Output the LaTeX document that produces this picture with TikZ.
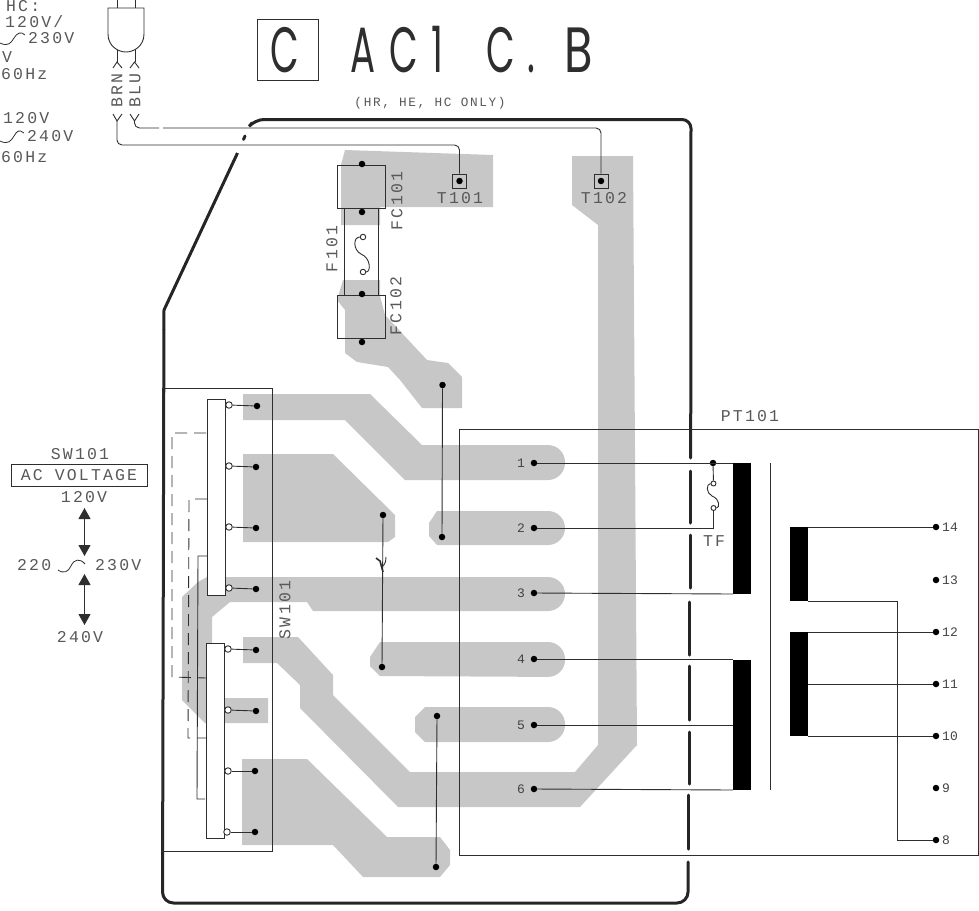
\documentclass[tikz,border=0pt]{standalone}
\usepackage{fontspec}
\setmainfont{Liberation Sans}
\newfontfamily\labfont[LetterSpace=13]{Liberation Mono}
\newfontfamily\numfont{Liberation Mono}
\newfontfamily\bigfont[LetterSpace=36]{Poppins}
\definecolor{trace}{gray}{0.78}
\definecolor{ink}{gray}{0.18}
\usetikzlibrary{arrows.meta}
\tikzset{
  lab/.style={font=\labfont\fontsize{16.5}{16.5}\selectfont,text=ink!80,inner sep=0pt,anchor=center},
  smalllab/.style={font=\labfont\fontsize{12.7}{12.7}\selectfont,text=ink!80,inner sep=0pt,anchor=center},
  numlab/.style={font=\numfont\fontsize{13}{13}\selectfont,text=ink!90,inner sep=0pt,anchor=center},
  titlelab/.style={font=\bigfont\fontsize{64}{64}\selectfont,text=ink,inner sep=0pt,anchor=center,xscale=0.58,transform shape},
  wire/.style={draw=ink,line width=0.9pt},
  dashwire/.style={draw=ink,line width=0.9pt,dash pattern=on 12pt off 7pt},
  board/.style={draw=ink!80!black,line width=3pt},
  pad/.style={fill=trace,draw=none},
  dot/.style={circle,fill=black,draw=none,minimum size=6.5pt,inner sep=0pt},
  hole/.style={circle,fill=white,draw=ink,line width=0.9pt,minimum size=6.5pt,inner sep=0pt},
  core/.style={fill=black,draw=none},
  dbl/.style={draw=ink,line width=1pt,{Triangle[length=11pt,width=12pt]}-{Triangle[length=11pt,width=12pt]}}
}
\begin{document}
\begin{tikzpicture}[x=1pt,y=-1pt]
\useasboundingbox (0,0) rectangle (979,910);
% traces
\path[pad] (345,150)--(493,155)--(493,207)--(380,207)--(380,225)--(341,225)--(341,165)--cycle;
\path[pad] (343,280)--(380,280)--(380,296)--(385,315)--(427,360)--(448,363)--(462,377)--(462,408)--(422,408)--(400,380)--(388,367)--(357,362)--(345,353)--(345,310)--(337,300)--cycle;
\path[pad] (572,156)--(633,156)--(637,745)--(580,807)--(398,807)--(300,708)--(300,685)--(277,663)--(243,663)--(243,637)--(298,637)--(333,675)--(333,695)--(410,772)--(575,772)--(598,745)--(598,225)--(572,205)--cycle;
\path[pad] (242,759)--(307,759)--(387,837)--(440,837)--(450,850)--(450,865)--(440,877)--(363,877)--(333,845)--(242,845)--cycle;
\path[pad] (243,394)--(370,394)--(422,445)--(548,445) [rounded corners=17pt]--(565,445)--(565,480) [sharp corners]--(405,480)--(345,420)--(243,420)--cycle;
\path[pad] (243,454)--(333,454)--(395,515)--(395,537)--(388,542)--(243,542)--cycle;
\path[pad] (429,523)--(437,511)--(548,511) [rounded corners=17pt]--(565,511)--(565,545) [sharp corners]--(437,545)--(429,536)--cycle;
\path[pad] (198,582)--(207,577)--(548,577) [rounded corners=17pt]--(565,577)--(565,611) [sharp corners]--(313,611)--(307,602)--(230,602)--(212,617)--(212,685)--(225,698)--(268,698)--(268,723)--(205,723)--(182,700)--(182,597)--cycle;
\path[pad] (370,657)--(380,642)--(548,642) [rounded corners=17pt]--(565,642)--(565,677) [sharp corners]--(380,676)--(370,666)--cycle;
\path[pad] (415,717)--(425,707)--(548,707) [rounded corners=17pt]--(565,707)--(565,742) [sharp corners]--(425,742)--(415,732)--cycle;
% title
\node[draw=ink,line width=0.8pt,minimum width=61pt,minimum height=61pt,inner sep=0pt] (cbox) at (287.5,49.5) {};
\node[titlelab] (t1) at (285,50) {C};
\node[titlelab] (t2) at (397,50) {AC1};
\node[titlelab] (t3) at (511,50) {C\kern22pt.};
\node[titlelab,xscale=1.25] (t4) at (579,50) {B};
\node[smalllab] (only) at (430,103) {(HR, HE, HC ONLY)};
% left labels
\node[lab,anchor=west] (l1) at (6,6) {HC:};
\node[lab,anchor=west] (l2) at (5,21.5) {120V/};
\node[lab,anchor=west] (l3) at (28,38) {230V};
\node[lab,anchor=west] (l4) at (2,57) {V};
\node[lab,anchor=west] (l5) at (1,74) {60Hz};
\node[lab,anchor=west] (l6) at (3,118) {120V};
\node[lab,anchor=west] (l7) at (27,136) {240V};
\node[lab,anchor=west] (l8) at (1,157) {60Hz};
\draw[wire,line width=0.8pt] (0,43) .. controls (8,47) and (11,43) .. (14,38) .. controls (17,33) and (21,31) .. (25,35);
\draw[wire,line width=0.8pt] (0,141) .. controls (8,145) and (11,141) .. (14,136) .. controls (17,131) and (19,129) .. (24,133);
% plug
\draw[wire] (108,8)--(144,8)--(144,34) .. controls (144,46) and (134,52) .. (126,52) .. controls (118,52) and (108,46) .. (108,34)--cycle;
\draw[wire] (117,0)--(117,8);
\draw[wire] (135,0)--(135,8);
\coordinate (brnA) at (117,50);
\coordinate (bluA) at (135,50);
\draw[wire] (brnA)--(117,62);
\draw[wire] (bluA)--(135,62);
\draw[wire] (113,68)--(117,62)--(122,68);
\draw[wire] (130,68)--(134.5,62)--(139,68);
\node[lab,rotate=90] (brn) at (117,91) {BRN};
\node[lab,rotate=90] (blu) at (135,91) {BLU};
\draw[wire] (113,114)--(117,121)--(122,114);
\draw[wire] (130,114)--(134.5,121)--(139,114);
% terminals
\node[dot] (t101) at (459.5,181) {};
\node[dot] (t102) at (601,181) {};
\node[draw=ink,line width=0.8pt,minimum size=14pt,inner sep=0pt] (t101b) at (459.5,181) {};
\node[draw=ink,line width=0.8pt,minimum size=14pt,inner sep=0pt] (t102b) at (601,181) {};
\node[lab] (t101t) at (460,198) {T101};
\node[lab] (t102t) at (604,198) {T102};
\draw[wire,rounded corners=5pt] (117,121)--(117,145)--(459.5,145)--(t101b.north);
\draw[wire,rounded corners=5pt] (134.5,121)--(134.5,128)--(159,128);
\draw[wire,rounded corners=5pt] (163,128)--(601,128)--(t102b.north);
% board outline
\draw[board,line cap=round,rounded corners=9pt] (252,123)--(255,119.5)--(691,119.5)--(690.7,458);
\draw[board,line cap=round] (245,136)--(243.5,139.5);
\draw[board] (237.5,153)--(164,310)--(163.9,330);
\draw[board,rounded corners=11pt,line cap=round] (163.9,330)--(162.5,903)--(688,903)--(688.2,862);
% fuse block
\draw[wire] (344,208)--(344,295);
\draw[wire] (378,208)--(378,295);
\node[draw=ink,line width=0.9pt,minimum width=48pt,minimum height=43pt,inner sep=0pt] (fc101) at (361,186.5) {};
\node[draw=ink,line width=0.9pt,minimum width=48pt,minimum height=43pt,inner sep=0pt] (fc102) at (361,316.5) {};
\node[dot] (f1) at (362,164) {};
\node[dot] (f2) at (362,212) {};
\node[dot] (f3) at (362,294) {};
\node[dot] (f4) at (362,342) {};
\node[hole,minimum size=5.5pt] (fa) at (363,237) {};
\node[hole,minimum size=5.5pt] (fb) at (363,272) {};
\draw[wire] (fa.west) .. controls (353,237) and (353,250) .. (361,254) .. controls (371,258) and (371,272) .. (fb.east);
\node[lab,rotate=90] (fc101t) at (397,201) {FC101};
\node[lab,rotate=90] (f101t) at (332,249) {F101};
\node[lab,rotate=90] (fc102t) at (396,306) {FC102};
% SW block
\node[draw=ink,line width=0.8pt,minimum width=110pt,minimum height=463pt,inner sep=0pt] (swrect) at (217,619.5) {};
\node[lab,rotate=90] (swt) at (285,610) {SW101};
\draw[dashwire] (206,433)--(172,433)--(172,677)--(206,678);
\draw[dashwire] (207,499)--(189,499)--(188,738)--(206,738);
\draw[wire] (207,556)--(198,556)--(197,799)--(205,799);
\node[draw=ink,line width=0.9pt,fill=white,minimum width=18pt,minimum height=196pt,inner sep=0pt] (sw1) at (216,497) {};
\node[draw=ink,line width=0.9pt,fill=white,minimum width=18pt,minimum height=195pt,inner sep=0pt] (sw2) at (215,740.5) {};
\foreach \n/\hx/\hy/\dx/\dy in {a/229/405/257/406,b/229/466/256/467,c/229/527/256/528,d/229/588/256/589,e/228/649/256/650,f/228/710/256/711,g/228/771/255/771,h/227/832/255/832}{
  \node[hole] (h\n) at (\hx,\hy) {};
  \node[dot] (d\n) at (\dx,\dy) {};
  \draw[wire] (h\n)--(d\n);
}
% jumpers
\node[dot] (j1a) at (442.5,385) {};
\node[dot] (j1b) at (442,537) {};
\draw[wire] (j1a)--(j1b);
\node[dot] (j2a) at (383,515) {};
\node[dot] (j2b) at (382,667) {};
\draw[wire] (j2a)--(j2b);
\node[dot] (j3a) at (437,716) {};
\node[dot] (j3b) at (436,867) {};
\draw[wire] (j3a)--(j3b);
\draw[line width=1.6pt,draw=ink] (376,558)--(380,561)--(383,572);
\draw[wire] (386,557) .. controls (386,563) and (384,566) .. (381,567);
% PT101
\node[draw=ink,line width=0.8pt,minimum width=519pt,minimum height=426pt,inner sep=0pt] (ptrect) at (718.5,642) {};
\node[lab] (ptt) at (750,416) {PT101};
% board dashes
\foreach \x/\a/\b in {690.3/471/523,690/535/588,689.5/602/655,689.3/666/720,689/732/784,688.6/795/849}{
  \draw[board,line cap=round] (\x,\a)--(\x,\b);
}
% cores
\fill[core] (733,463) rectangle (751,594);
\fill[core] (733,660) rectangle (751,790);
\fill[core] (790,527) rectangle (808,601);
\fill[core] (790,632) rectangle (808,736);
\draw[wire] (770.5,463)--(770.5,790);
% pads 1-6
\foreach \n/\y in {1/463,2/528,3/593,4/659,5/725,6/789}{
  \node[dot] (p\n) at (534,\y) {};
  \node[numlab] (pl\n) at (521,\y) {\n};
}
\node[dot] (tfj) at (713,463) {};
\coordinate (c1t) at (733,463);
\coordinate (c1b) at (733,594);
\coordinate (c4) at (733,659);
\coordinate (c5) at (733,725);
\coordinate (c6) at (733,790);
\draw[wire] (p1)--(c1t);
\draw[wire] (p3)--(c1b);
\draw[wire] (p4)--(c4);
\draw[wire] (p5)--(c5);
\draw[wire] (p6)--(c6);
\node[hole,minimum size=5pt] (tfa) at (713.5,483.5) {};
\node[hole,minimum size=5pt] (tfb) at (713.5,508) {};
\draw[wire] (tfj)--(tfa);
\draw[wire] (tfa.west) .. controls (706,484) and (706,493) .. (712,496) .. controls (720,499) and (720,508) .. (tfb.east);
\draw[wire] (p2)--(713.5,528)--(tfb);
\node[lab] (tft) at (714,541) {TF};
% secondary
\foreach \n/\y in {14/527,13/580,12/632,11/684,10/736,9/788,8/840}{
  \node[dot] (s\n) at (936,\y) {};
  \node[numlab,anchor=west] (sl\n) at (942,\y) {\n};
}
\coordinate (c14) at (808,527);
\coordinate (c8) at (808,601);
\coordinate (c12) at (808,632);
\coordinate (c11) at (808,684);
\coordinate (c10) at (808,736);
\draw[wire] (c14)--(s14);
\draw[wire] (c12)--(s12);
\draw[wire] (c11)--(s11);
\draw[wire] (c10)--(s10);
\draw[wire] (c8)--(897,601)--(897,840)--(s8);
% SW101 legend
\node[lab] (swl) at (80,454) {SW101};
\node[draw=ink,line width=0.8pt,minimum width=136pt,minimum height=22pt,inner sep=0pt,lab] (acv) at (79,475) {AC VOLTAGE};
\node[lab] (v120) at (84,497) {120V};
\node[lab,anchor=west] (v220) at (17,565) {220};
\node[lab,anchor=west] (v230) at (95,565) {230V};
\node[lab] (v240) at (80,637) {240V};
\coordinate (a1) at (84.5,508);
\coordinate (a2) at (84.5,556);
\coordinate (a3) at (84.5,574);
\coordinate (a4) at (84.5,625);
\draw[dbl] (a1)--(a2);
\draw[dbl] (a3)--(a4);
\draw[wire,line width=0.8pt] (58,570) .. controls (64,574) and (68,572) .. (71,566) .. controls (74,559) and (80,558) .. (85,564);
\end{tikzpicture}
\end{document}
